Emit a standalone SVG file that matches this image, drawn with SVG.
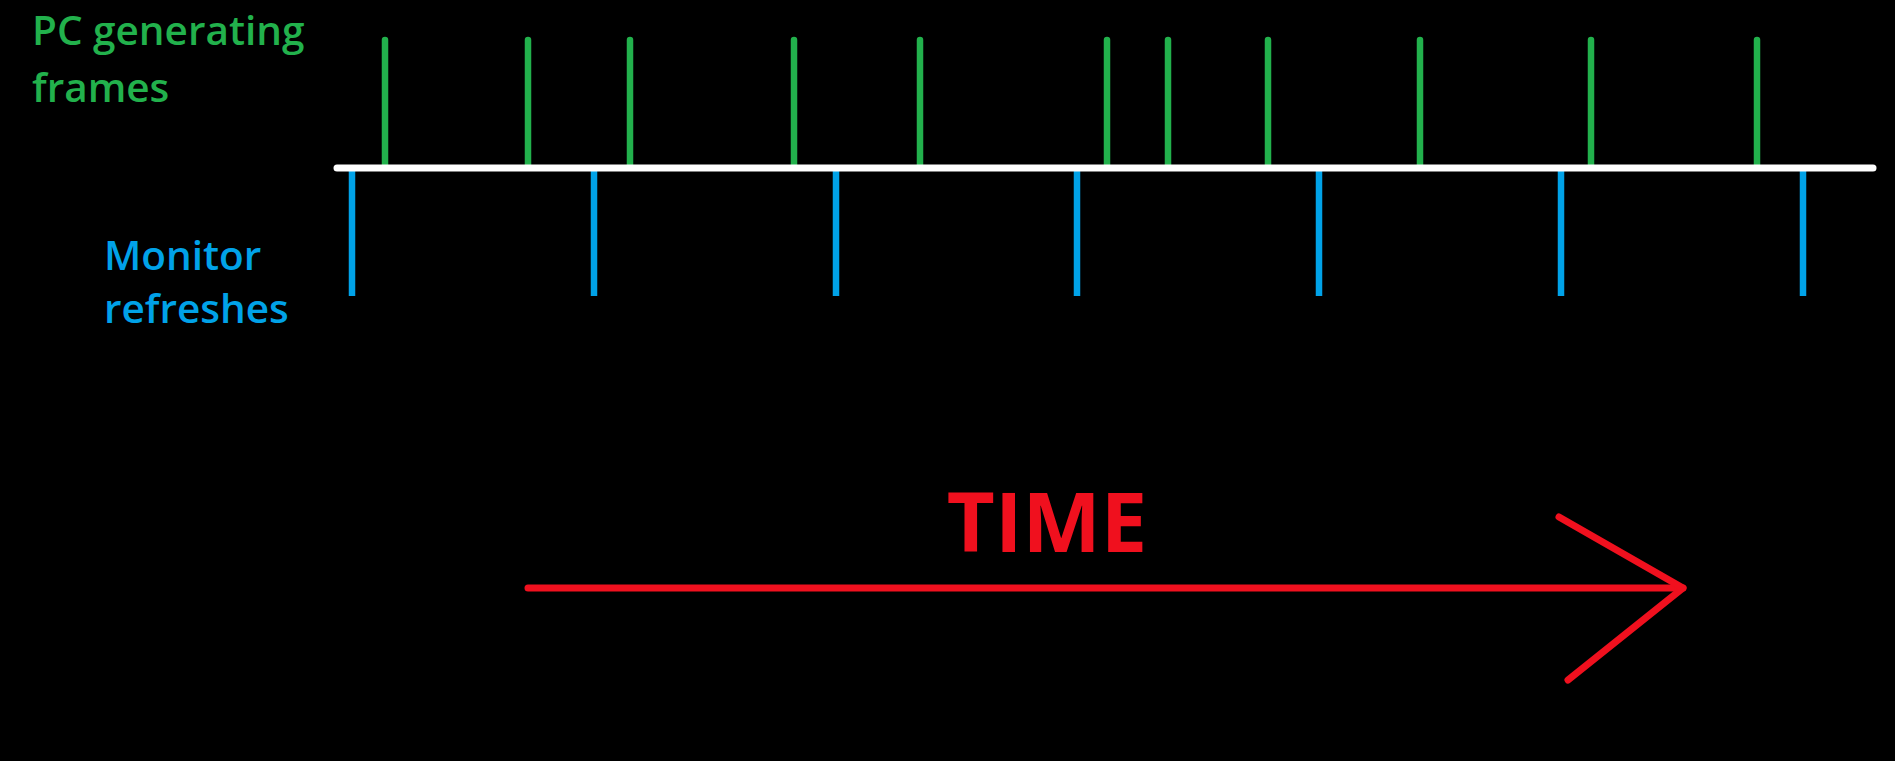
<svg xmlns="http://www.w3.org/2000/svg" width="1895" height="761" viewBox="0 0 1895 761">
<style>
.g{stroke:#22b14c;stroke-width:6.5;stroke-linecap:round}
.b{stroke:#00a2e8;stroke-width:6.5;stroke-linecap:butt}
.w{stroke:#ffffff;stroke-width:7;stroke-linecap:round}
.r{stroke:#f0101e;stroke-width:7;stroke-linecap:round;fill:none;stroke-linejoin:round}
.t{font-family:"Open Sans","Liberation Sans",sans-serif;font-weight:600}
</style>
<rect width="1895" height="761" fill="#000"/>
<g id="label-pc" class="t" fill="#22b14c" font-size="40.5">
<text x="32" y="45">PC generating</text>
<text x="32" y="102">frames</text>
</g>
<g id="label-monitor" class="t" fill="#00a2e8" font-size="40.5">
<text x="104" y="270">Monitor</text>
<text x="104" y="323">refreshes</text>
</g>
<g id="frames">
<line class="g" x1="385" y1="40" x2="385" y2="166"/>
<line class="g" x1="528" y1="40" x2="528" y2="166"/>
<line class="g" x1="630" y1="40" x2="630" y2="166"/>
<line class="g" x1="794" y1="40" x2="794" y2="166"/>
<line class="g" x1="920" y1="40" x2="920" y2="166"/>
<line class="g" x1="1107" y1="40" x2="1107" y2="166"/>
<line class="g" x1="1168" y1="40" x2="1168" y2="166"/>
<line class="g" x1="1268" y1="40" x2="1268" y2="166"/>
<line class="g" x1="1420" y1="40" x2="1420" y2="166"/>
<line class="g" x1="1591" y1="40" x2="1591" y2="166"/>
<line class="g" x1="1757" y1="40" x2="1757" y2="166"/>
</g>
<g id="refreshes">
<line class="b" x1="352" y1="170" x2="352" y2="296"/>
<line class="b" x1="594" y1="170" x2="594" y2="296"/>
<line class="b" x1="836" y1="170" x2="836" y2="296"/>
<line class="b" x1="1077" y1="170" x2="1077" y2="296"/>
<line class="b" x1="1319" y1="170" x2="1319" y2="296"/>
<line class="b" x1="1561" y1="170" x2="1561" y2="296"/>
<line class="b" x1="1803" y1="170" x2="1803" y2="296"/>
</g>
<g id="timeline">
<line class="w" x1="337" y1="168" x2="1873" y2="168"/>
</g>
<g id="time-arrow">
<text x="1047" y="552" text-anchor="middle" font-family="Open Sans, Liberation Sans, sans-serif" font-weight="700" font-size="83" fill="#f0101e">TIME</text>
<line class="r" x1="528" y1="588" x2="1683" y2="588"/>
<polyline class="r" points="1559,517 1683,588 1568,680"/>
</g>
</svg>
